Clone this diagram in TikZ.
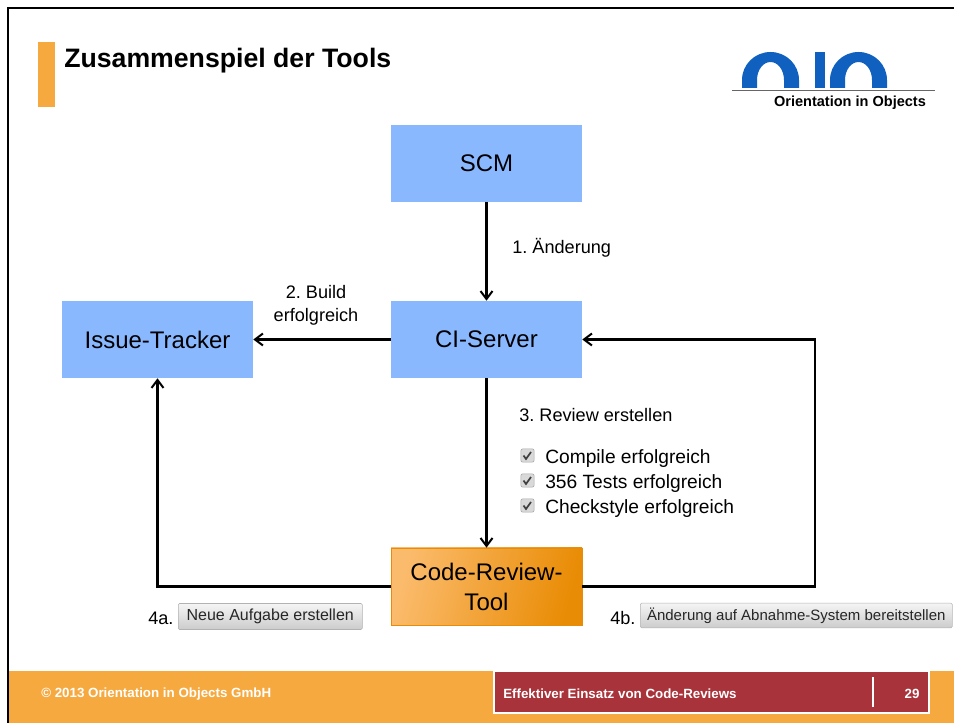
\documentclass[tikz,border=0pt]{standalone}
\usepackage{fontspec}
\setmainfont{Liberation Sans}
\usetikzlibrary{arrows.meta}
\definecolor{oioorange}{HTML}{F6A93F}
\definecolor{oiolight}{HTML}{FBBB6C}
\definecolor{oiodark}{HTML}{E98C05}
\definecolor{oioblue}{HTML}{8AB8FF}
\definecolor{oiored}{HTML}{A9333A}
\definecolor{oiologo}{HTML}{1060C0}
\tikzset{
    BX/.style ={rectangle,minimum width = 143.25pt, minimum height = 57.75pt, inner sep=0pt, fill=oioblue, font=\fontsize{18}{22.5}\selectfont, align=center},
    BO/.style ={BX, left color=oiolight, right color=oiodark, shading angle=75, draw=oiodark, line width=0.5pt},
    AR/.style ={-{Straight Barb[length=6pt,width=9pt,line width=1.5pt]}, black, line width=1.6pt},
    LB/.style ={font=\fontsize{13.6}{17}\selectfont, inner sep=0pt, align=center},
    CK/.style ={font=\fontsize{14.4}{18}\selectfont, inner sep=0pt, anchor=west},
    BT/.style ={rectangle,rounded corners=1pt, draw=black!30, top color=black!4, bottom color=black!20, inner sep=0pt, text=black!85, anchor=west},
    FT/.style ={font=\bfseries\fontsize{10}{12}\selectfont, white, inner sep=0pt},
    TK/.style ={rectangle,rounded corners=1.5pt, minimum size=10pt, inner sep=0pt, draw=black!35, fill=black!15}}
\begin{document}
\frenchspacing
\begin{tikzpicture}[x=0.75pt,y=-0.75pt]
        \useasboundingbox (0,0) rectangle (954,723);
        % frame and footer
        \fill[oioorange] (8,671) rectangle (954,723);
        \draw[line width=1.9pt] (8,723) -- (8,8) -- (954,8);
        \draw[white,line width=1.2pt,fill=oiored] (494,671) rectangle (929,713);
        \draw[white,line width=1.2pt] (873,677) -- (873,707);
        \node[FT,anchor=west] (copy) at (41,694){© 2013 Orientation in Objects GmbH};
        \node[FT,anchor=west] (topic) at (503,694){Effektiver Einsatz von Code-Reviews};
        \node[FT] (page) at (912,694){29};
        % title
        \fill[oioorange] (38,42) rectangle (55,107);
        \node[anchor=west,inner sep=0pt,font=\bfseries\fontsize{20}{24}\selectfont] (title) at (64,61){Zusammenspiel der Tools};
        % logo
        \fill[oiologo] (742,88) -- (742,80) arc[start angle=180,end angle=360,x radius=28.5,y radius=28] -- (799,88) -- (784,88) -- (784,80) arc[start angle=360,end angle=180,x radius=13.5,y radius=18] -- (757,88) -- cycle;
        \fill[oiologo] (815,52) rectangle (825,88);
        \fill[oiologo] (830,88) -- (830,80) arc[start angle=180,end angle=360,x radius=28.5,y radius=28] -- (887,88) -- (872,88) -- (872,80) arc[start angle=360,end angle=180,x radius=13.5,y radius=18] -- (845,88) -- cycle;
        \draw[black!60,line width=0.7pt] (732,90) -- (935,90);
        \node[inner sep=0pt,font=\bfseries\fontsize{10.9}{13}\selectfont] (logotext) at (850,103){Orientation in Objects};
        % boxes
        \node[BX] (scm) at (486.5,163.5){SCM};
        \node[BX] (ci) at (486.5,339.5){CI-Server};
        \node[BX] (issue) at (157.5,339.5){Issue-Tracker};
        \node[BO] (crt) at (486.5,586.5){Code-Review-\\Tool};
        % arrows
        \draw[AR] (scm) -- (ci);
        \draw[AR] (ci) -- (issue);
        \draw[AR] (ci) -- (crt);
        \draw[AR] (crt.west) -| (issue.south);
        \draw[AR] (crt.east) -- (815,586.5) |- (ci.east);
        % labels
        \node[LB,anchor=west] (l1) at (512,248){1. Änderung};
        \node[LB] (l2) at (316,305){2. Build\\erfolgreich};
        \node[LB,anchor=west] (l3) at (519,415){3. Review erstellen};
        % checks
        \foreach \yy/\tt/\nn in {455.5/Compile erfolgreich/a,480.5/356 Tests erfolgreich/b,505.5/Checkstyle erfolgreich/c}{
            \node[TK] (box\nn) at (527.5,\yy){};
            \draw[black!75,line width=1.3pt] (523.5,\yy) -- (526,\yy+3.5) -- (531,\yy-3.5);
            \node[CK] (txt\nn) at (545,\yy+3){\tt};
        }
        % buttons
        \node[LB,anchor=west] (l4a) at (148,618){4a.};
        \node[BT,minimum width=138pt,minimum height=19.5pt,font=\fontsize{12}{15}\selectfont] (btna) at (178,616.5){Neue Aufgabe erstellen};
        \node[LB,anchor=west] (l4b) at (610,618){4b.};
        \node[BT,minimum width=234pt,minimum height=18.5pt,font=\fontsize{11.25}{14}\selectfont] (btnb) at (640,615.5){Änderung auf Abnahme-System bereitstellen};
    \end{tikzpicture}
\end{document}
